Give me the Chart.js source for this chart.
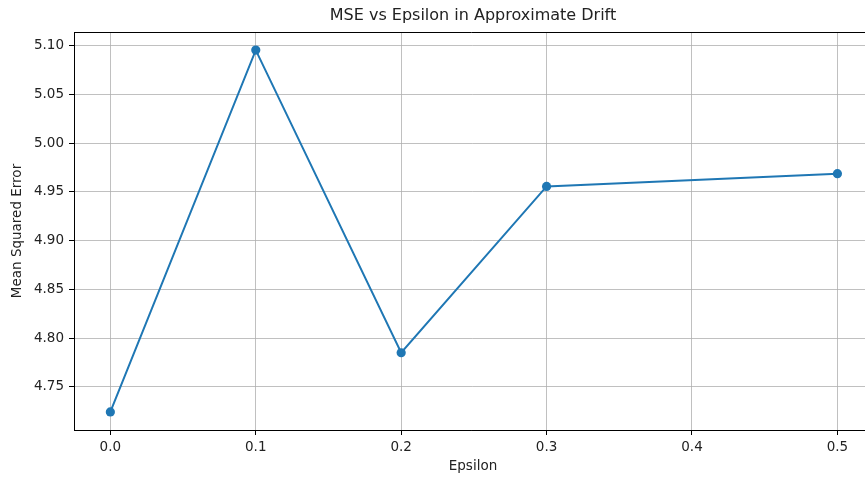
<!DOCTYPE html>
<html>
<head>
<meta charset="utf-8">
<script src="https://cdn.jsdelivr.net/npm/chart.js@4.4.0/dist/chart.umd.min.js"></script>
<style>
  html, body { margin: 0; padding: 0; background: #fff; overflow: hidden; }
  #wrap { width: 865px; height: 477px; overflow: hidden; position: relative; }
  #mseChart { position: absolute; left: 0; top: 0; }
</style>
</head>
<body>
<div id="wrap"><canvas id="mseChart" width="874" height="477"></canvas></div>
<script>
// values
var epsilons = [0.0, 0.1, 0.2, 0.3, 0.5];
var mseValues = [4.7243, 5.0956, 4.785, 4.9557, 4.9688];
var xTicks = [0.0, 0.1, 0.2, 0.3, 0.4, 0.5];
var yTicks = [4.75, 4.80, 4.85, 4.90, 4.95, 5.00, 5.05, 5.10];

var chartTitle = "MSE vs Epsilon in Approximate Drift";
var xLabel = "Epsilon";
var yLabel = "Mean Squared Error";

var fontFamily = "'DejaVu Sans', sans-serif";

// title, axis labels and the top spine, drawn like matplotlib does
var textPlugin = {
    id: 'textPlugin',
    afterDraw: function(chart) {
        var ctx = chart.ctx;
        var area = chart.chartArea;
        ctx.save();
        // top spine
        ctx.strokeStyle = '#000';
        ctx.lineWidth = 1;
        ctx.beginPath();
        ctx.moveTo(area.left, area.top + 0.5);
        ctx.lineTo(area.right, area.top + 0.5);
        ctx.stroke();

        ctx.fillStyle = '#222';
        ctx.textAlign = 'center';
        ctx.textBaseline = 'middle';
        ctx.font = '16px ' + fontFamily;
        ctx.fillText(chartTitle, 473, 16);

        ctx.font = '13.5px ' + fontFamily;
        ctx.fillText(xLabel, 473, 466);

        ctx.translate(17, (area.top + area.bottom) / 2);
        ctx.rotate(-Math.PI / 2);
        ctx.fillText(yLabel, 0, 0);
        ctx.restore();
    }
};

var points = epsilons.map(function(e, i) { return {x: e, y: mseValues[i]}; });

new Chart(document.getElementById('mseChart'), {
    type: 'line',
    data: {
        datasets: [{
            data: points,
            borderColor: '#1f77b4',
            backgroundColor: '#1f77b4',
            borderWidth: 2,
            pointRadius: 4.6,
            pointBorderWidth: 0,
            pointHoverRadius: 4.6,
            tension: 0,
            fill: false
        }]
    },
    options: {
        responsive: false,
        animation: false,
        layout: { padding: { top: 32, left: 0, right: 1, bottom: 0 } },
        plugins: {
            legend: { display: false },
            tooltip: { enabled: false }
        },
        scales: {
            x: {
                type: 'linear',
                min: -0.025,
                max: 0.522,
                afterBuildTicks: function(scale) {
                    scale.ticks = xTicks.map(function(v) { return {value: v}; });
                },
                afterFit: function(scale) { scale.height = 47; },
                grid: {
                    color: '#b0b0b0',
                    lineWidth: 0.8,
                    drawTicks: true,
                    tickLength: 5,
                    tickColor: '#000',
                    tickWidth: 1
                },
                border: { color: '#000', width: 1 },
                ticks: {
                    color: '#222',
                    padding: 4,
                    maxRotation: 0,
                    autoSkip: false,
                    font: { family: fontFamily, size: 13.5 },
                    callback: function(v) { return v.toFixed(1); }
                }
            },
            y: {
                type: 'linear',
                min: 4.7057,
                max: 5.1142,
                afterBuildTicks: function(scale) {
                    scale.ticks = yTicks.map(function(v) { return {value: v}; });
                },
                afterFit: function(scale) { scale.width = 74; },
                grid: {
                    color: '#b0b0b0',
                    lineWidth: 0.8,
                    drawTicks: true,
                    tickLength: 5,
                    tickColor: '#000',
                    tickWidth: 1
                },
                border: { color: '#000', width: 1 },
                ticks: {
                    color: '#222',
                    padding: 5,
                    autoSkip: false,
                    font: { family: fontFamily, size: 13.5 },
                    callback: function(v) { return v.toFixed(2); }
                }
            }
        }
    },
    plugins: [textPlugin]
});
</script>
</body>
</html>
